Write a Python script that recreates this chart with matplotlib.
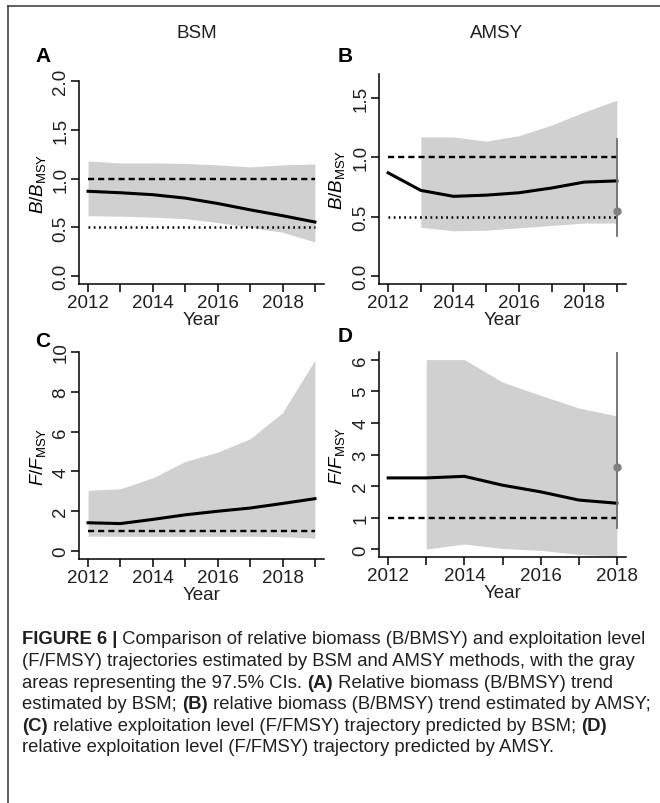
import matplotlib
matplotlib.use('Agg')
import matplotlib.pyplot as plt
from matplotlib import font_manager
from matplotlib.lines import Line2D

# ---- data ----
years = [2012, 2013, 2014, 2015, 2016, 2017, 2018, 2019]

# A: BSM  B/BMSY
bsm_b = [0.87, 0.855, 0.835, 0.80, 0.745, 0.68, 0.62, 0.555]
bsm_b_hi = [1.18, 1.16, 1.16, 1.155, 1.14, 1.12, 1.14, 1.15]
bsm_b_lo = [0.62, 0.615, 0.605, 0.59, 0.55, 0.50, 0.45, 0.35]

# B: AMSY B/BMSY (CI from 2013)
amsy_b = [0.868, 0.72, 0.67, 0.68, 0.70, 0.74, 0.79, 0.80]
ci_years_b = [2013, 2014, 2015, 2016, 2017, 2018, 2019]
amsy_b_hi = [1.17, 1.17, 1.135, 1.18, 1.27, 1.38, 1.48]
amsy_b_lo = [0.41, 0.38, 0.385, 0.405, 0.425, 0.445, 0.445]
amsy_b_pt = 0.55
amsy_b_bar = [0.34, 1.15]

# C: BSM F/FMSY
bsm_f = [1.42, 1.38, 1.59, 1.82, 2.0, 2.16, 2.39, 2.63]
bsm_f_hi = [3.05, 3.13, 3.68, 4.5, 4.97, 5.64, 6.95, 9.6]
bsm_f_lo = [0.75, 0.74, 0.74, 0.74, 0.74, 0.74, 0.72, 0.65]

# D: AMSY F/FMSY
years_d = [2012, 2013, 2014, 2015, 2016, 2017, 2018]
amsy_f = [2.26, 2.26, 2.31, 2.03, 1.82, 1.56, 1.46]
ci_years_d = [2013, 2014, 2015, 2016, 2017, 2018]
amsy_f_hi = [6.0, 6.0, 5.29, 4.87, 4.47, 4.22]
amsy_f_lo = [0.01, 0.17, 0.03, -0.03, -0.16, -0.21]
amsy_f_pt = 2.61
amsy_f_bar = [0.68, 6.24]

plt.rcParams['font.family'] = ['Liberation Sans', 'DejaVu Sans']
plt.rcParams['mathtext.fontset'] = 'custom'
plt.rcParams['mathtext.rm'] = 'Liberation Sans'
plt.rcParams['mathtext.it'] = 'Liberation Sans:italic'

names = {f.name for f in font_manager.fontManager.ttflist}
cap_font = 'Liberation Sans Narrow' if 'Liberation Sans Narrow' in names else 'Liberation Sans'

W, H = 660, 804
fig = plt.figure(figsize=(W / 100, H / 100), dpi=100)

txt_col = '#231f20'
band_col = '#d0d0d0'


def make_ax(l, r, t, b):
    return fig.add_axes([l / W, 1 - b / H, (r - l) / W, (b - t) / H])


def style(ax, xlim, ylim, yticks, xticks_all, xlabels):
    ax.set_xlim(*xlim)
    ax.set_ylim(*ylim)
    for s in ['top', 'right']:
        ax.spines[s].set_visible(False)
    for s in ['left', 'bottom']:
        ax.spines[s].set_linewidth(1.1)
    ax.set_yticks(yticks)
    ax.set_xticks(xticks_all)
    ax.set_xticklabels([str(x) if x in xlabels else '' for x in xticks_all])
    ax.tick_params(length=5.5, width=1.1, colors='black', labelcolor=txt_col,
                   labelsize=13.5)
    ax.tick_params(axis='y', pad=1.5)
    ax.tick_params(axis='x', pad=1.5)
    for lab in ax.get_yticklabels():
        lab.set_rotation(90)
        lab.set_va('center')
    ax.set_xlabel('Year', fontsize=13.5, color=txt_col, labelpad=0.5)


def ylab(ax, text):
    ax.set_ylabel(text, fontsize=13.5)
    ax.yaxis.set_label_coords(-0.128, 0.5)


dash = (0, (2.6, 1.7))
dots = (0, (0.7, 1.4))

# A
ax = make_ax(79, 324, 82, 285)
ax.fill_between(years, bsm_b_lo, bsm_b_hi, color=band_col, lw=0)
ax.axhline(1.0, xmin=0.035, xmax=0.965, color='black', lw=1.7, ls=dash)
ax.axhline(0.5, xmin=0.035, xmax=0.965, color='black', lw=1.8, ls=dots)
ax.plot(years, bsm_b, color='black', lw=2.2)
style(ax, (2011.72, 2019.28), (-0.08, 2.0), [0, 0.5, 1.0, 1.5, 2.0], years,
      [2012, 2014, 2016, 2018])
ax.set_yticklabels(['0.0', '0.5', '1.0', '1.5', '2.0'])
ylab(ax, r'$B/B_{\rm MSY}$')

# B
ax = make_ax(379, 626, 75, 285)
ax.fill_between(ci_years_b, amsy_b_lo, amsy_b_hi, color=band_col, lw=0)
ax.axhline(1.0, xmin=0.035, xmax=0.965, color='black', lw=1.7, ls=dash)
ax.axhline(0.5, xmin=0.035, xmax=0.965, color='black', lw=1.8, ls=dots)
ax.plot(years, amsy_b, color='black', lw=2.2)
ax.plot([years[-1], years[-1]], amsy_b_bar, color='#6e6e6e', lw=1.3)
ax.plot(years[-1], amsy_b_pt, 'o', color='#808080', ms=5)
style(ax, (2011.72, 2019.28), (-0.068, 1.70), [0, 0.5, 1.0, 1.5], years,
      [2012, 2014, 2016, 2018])
ax.set_yticklabels(['0.0', '0.5', '1.0', '1.5'])
ylab(ax, r'$B/B_{\rm MSY}$')

# C
ax = make_ax(79, 324, 353, 560)
ax.fill_between(years, bsm_f_lo, bsm_f_hi, color=band_col, lw=0)
ax.axhline(1.0, xmin=0.035, xmax=0.965, color='black', lw=1.7, ls=dash)
ax.plot(years, bsm_f, color='black', lw=2.2)
style(ax, (2011.72, 2019.28), (-0.4, 10.0), [0, 2, 4, 6, 8, 10], years,
      [2012, 2014, 2016, 2018])
ylab(ax, r'$F/F_{\rm MSY}$')

# D
ax = make_ax(379, 626, 353, 558)
ax.fill_between(ci_years_d, amsy_f_lo, amsy_f_hi, color=band_col, lw=0)
ax.axhline(1.0, xmin=0.037, xmax=0.963, color='black', lw=1.7, ls=dash)
ax.plot(years_d, amsy_f, color='black', lw=2.2)
ax.plot([years_d[-1], years_d[-1]], amsy_f_bar, color='#6e6e6e', lw=1.3)
ax.plot(years_d[-1], amsy_f_pt, 'o', color='#808080', ms=5)
style(ax, (2011.76, 2018.24), (-0.24, 6.24), [0, 1, 2, 3, 4, 5, 6], years_d,
      [2012, 2014, 2016, 2018])
ylab(ax, r'$F/F_{\rm MSY}$')

# titles and panel letters
fig.text(197 / W, 1 - 33 / H, 'BSM', ha='center', va='center', fontsize=13.5,
         color=txt_col)
fig.text(497 / W, 1 - 33 / H, 'AMSY', ha='center', va='center', fontsize=13.5,
         color=txt_col)
for lx, ly, letter in [(43, 57, 'A'), (345, 57, 'B'), (43, 342, 'C'),
                       (345, 337, 'D')]:
    fig.text(lx / W, 1 - ly / H, letter, ha='center', va='center',
             fontsize=15, fontweight='bold', color='black')

# frame lines (top and left only)
fig.add_artist(Line2D([8 / W, 1], [1 - 7 / H, 1 - 7 / H], color='#444444',
                      lw=1.2))
fig.add_artist(Line2D([8 / W, 8 / W], [0, 1 - 7 / H], color='#444444',
                      lw=1.2))

# caption with bold pieces
caption = [
    [('FIGURE 6 |', True),
     (' Comparison of relative biomass (B/BMSY) and exploitation level', False)],
    [('(F/FMSY) trajectories estimated by BSM and AMSY methods, with the gray',
      False)],
    [('areas representing the 97.5% CIs. ', False), ('(A)', True),
     (' Relative biomass (B/BMSY) trend', False)],
    [('estimated by BSM; ', False), ('(B)', True),
     (' relative biomass (B/BMSY) trend estimated by AMSY;', False)],
    [('(C)', True),
     (' relative exploitation level (F/FMSY) trajectory predicted by BSM; ',
      False), ('(D)', True)],
    [('relative exploitation level (F/FMSY) trajectory predicted by AMSY.',
      False)],
]
renderer = fig.canvas.get_renderer()


def draw_line(line, y, size):
    x = 22
    made = []
    for seg, bold in line:
        t = fig.text(x / W, 1 - y / H, seg, ha='left', va='center',
                     fontsize=size, family=cap_font,
                     fontweight='bold' if bold else 'normal', color=txt_col)
        x += t.get_window_extent(renderer=renderer).width
        made.append(t)
    return x, made


# size the caption so the first line spans the same width as the original
end, tmp = draw_line(caption[0], 640, 10)
for t in tmp:
    t.remove()
cap_size = 10 * (649 - 22) / (end - 22)

for i, line in enumerate(caption):
    draw_line(line, 640 + i * 21.6, cap_size)

fig.savefig('out.png', dpi=100)
